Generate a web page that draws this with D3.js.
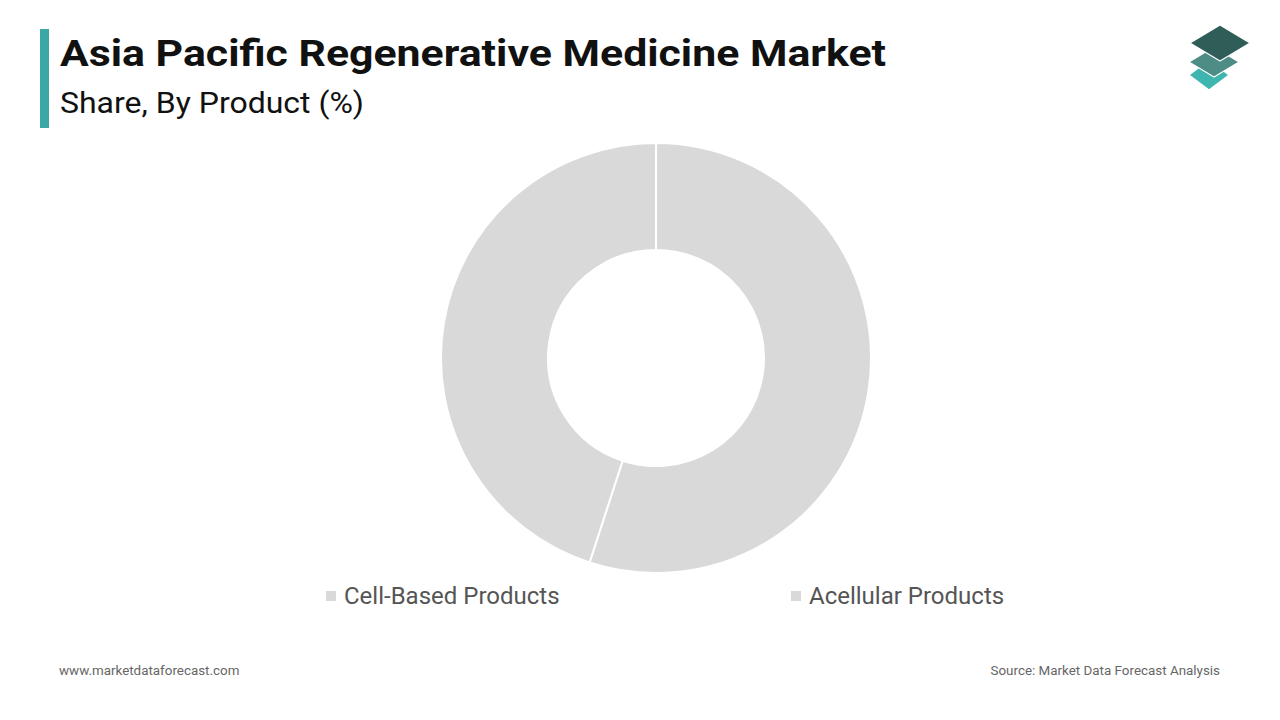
<!DOCTYPE html>
<html><head><meta charset="utf-8">
<script src="https://cdn.jsdelivr.net/npm/d3@7"></script>
<style>body{margin:0;background:#fff;font-family:Roboto,sans-serif}</style>
</head><body><svg id="c" width="1280" height="720"></svg>
<script>
const categories = ["Cell-Based Products", "Acellular Products"];
const shares = [55, 45];
const colors = ["#d9d9d9", "#d9d9d9"];

const svg = d3.select("#c");
svg.append("rect").attr("x", 40).attr("y", 29).attr("width", 9).attr("height", 99).attr("fill", "#3aa8a4");
svg.append("text").attr("x", 60).attr("y", 66).attr("font-size", 37).attr("font-weight", 700).attr("fill", "#111")
  .attr("textLength", 826).attr("lengthAdjust", "spacingAndGlyphs")
  .text("Asia Pacific Regenerative Medicine Market");
svg.append("text").attr("x", 60).attr("y", 113).attr("font-size", 30).attr("fill", "#111")
  .attr("textLength", 304).attr("lengthAdjust", "spacingAndGlyphs")
  .text("Share, By Product (%)");

// logo: three stacked rounded diamonds, shifted left as they go down
const logo = svg.append("g");
[[1209, 75, 20, 15, "#3fb5b0"], [1214, 62, 25, 15, "#4e8c86"], [1220, 43, 30, 18, "#2f5d58"]].forEach(([x, y, w, h, col]) => {
  logo.append("path").attr("d", `M${x - w},${y} L${x},${y - h} L${x + w},${y} L${x},${y + h}Z`)
    .attr("fill", col).attr("stroke", "#fff").attr("stroke-width", 1.2).attr("stroke-linejoin", "round");
});

const cx = 656, cy = 358;
const pie = d3.pie().sort(null).value(d => d)(shares);
const arc = d3.arc().innerRadius(108).outerRadius(215);
svg.append("g").attr("transform", `translate(${cx},${cy})`)
  .selectAll("path").data(pie).join("path")
  .attr("d", arc).attr("fill", (d, i) => colors[i]).attr("stroke", "#fff").attr("stroke-width", 2);

const lx = d3.scalePoint().domain(categories).range([326, 791]);
const leg = svg.selectAll("g.leg").data(categories).join("g").attr("class", "leg")
  .attr("transform", d => `translate(${lx(d)},596)`);
leg.append("rect").attr("x", 0).attr("y", -5).attr("width", 10).attr("height", 10).attr("fill", (d, i) => colors[i]);
leg.append("text").attr("x", 18).attr("y", 8).attr("font-size", 24).attr("fill", "#555").text(d => d);

svg.append("text").attr("x", 59).attr("y", 675).attr("font-size", 13.4).attr("fill", "#666").text("www.marketdataforecast.com");
svg.append("text").attr("x", 1220).attr("y", 675).attr("font-size", 13.4).attr("fill", "#666").attr("text-anchor", "end")
  .text("Source: Market Data Forecast Analysis");
</script></body></html>
